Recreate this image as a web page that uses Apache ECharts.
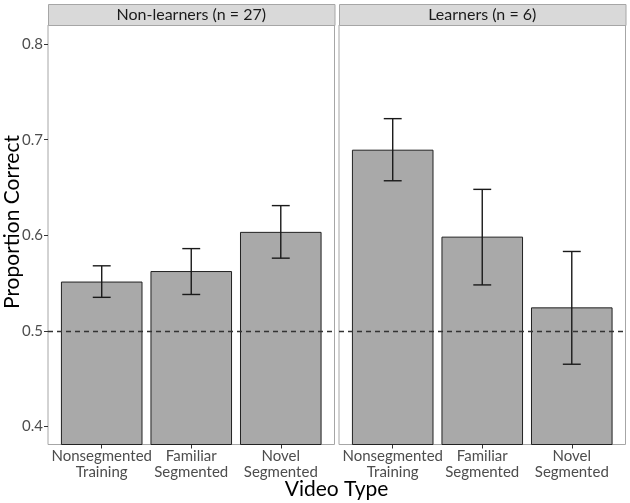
<!DOCTYPE html>
<html>
<head>
<meta charset="utf-8">
<script src="https://cdn.jsdelivr.net/npm/echarts@6/dist/echarts.min.js"></script>
<style>
  html, body { margin: 0; padding: 0; background: #fff; }
  #chart { width: 630px; height: 503px; }
</style>
</head>
<body>
<div id="chart"></div>
<script>
// video types (x categories), same in both panels
var categories = ['Nonsegmented\nTraining', 'Familiar\nSegmented', 'Novel\nSegmented'];
var panelTitles = ['Non-learners (n = 27)', 'Learners (n = 6)'];

// mean proportion correct and error bar ends
var nonLearnerMean = [0.551, 0.562, 0.603];
var nonLearnerLow  = [0.535, 0.538, 0.576];
var nonLearnerHigh = [0.568, 0.586, 0.631];

var learnerMean = [0.689, 0.598, 0.524];
var learnerLow  = [0.657, 0.548, 0.465];
var learnerHigh = [0.722, 0.648, 0.583];

var yTicks = [0.4, 0.5, 0.6, 0.7, 0.8];
var chanceLevel = 0.5;

var yMin = 0.381, yMax = 0.82;
var font = 'Lato';

function rows(mean, low, high) {
  return mean.map(function (m, i) { return [i + 1, m, low[i], high[i]]; });
}

function renderBar(params, api) {
  var x = api.value(0);
  var p0 = api.coord([x - 0.45, api.value(1)]);
  var p1 = api.coord([x + 0.45, yMin]);
  return {
    type: 'rect',
    shape: { x: p0[0], y: p0[1], width: p1[0] - p0[0], height: p1[1] - p0[1] },
    style: { fill: '#a9a9a9', stroke: '#222', lineWidth: 1 }
  };
}

function renderErr(params, api) {
  var x = api.value(0);
  var lo = api.coord([x, api.value(2)]);
  var hi = api.coord([x, api.value(3)]);
  var half = api.size([0.1, 0])[0];
  var st = { stroke: '#1a1a1a', lineWidth: 1.4 };
  return {
    type: 'group',
    children: [
      { type: 'line', shape: { x1: lo[0], y1: lo[1], x2: hi[0], y2: hi[1] }, style: st },
      { type: 'line', shape: { x1: lo[0] - half, y1: lo[1], x2: lo[0] + half, y2: lo[1] }, style: st },
      { type: 'line', shape: { x1: hi[0] - half, y1: hi[1], x2: hi[0] + half, y2: hi[1] }, style: st }
    ]
  };
}

var panels = [
  rows(nonLearnerMean, nonLearnerLow, nonLearnerHigh),
  rows(learnerMean, learnerLow, learnerHigh)
];
var panelLefts = [48, 339];
var panelW = 286.5, panelTop = 25, panelH = 419.5;

var grids = [], xAxes = [], yAxes = [], series = [], graphics = [];
panels.forEach(function (data, k) {
  grids.push({
    left: panelLefts[k], top: panelTop, width: panelW, height: panelH,
    show: true, borderColor: '#a6a6a6', borderWidth: 1, backgroundColor: '#fff'
  });
  xAxes.push({
    type: 'value', gridIndex: k, min: 0.4, max: 3.6,
    splitLine: { show: false }, axisLine: { show: false },
    axisTick: { show: true, length: 4, customValues: [1, 2, 3], lineStyle: { color: '#333' } },
    axisLabel: {
      customValues: [1, 2, 3], color: '#4d4d4d', fontFamily: font, fontSize: 15,
      lineHeight: 16, margin: 4,
      formatter: function (v) { return categories[Math.round(v) - 1]; }
    }
  });
  yAxes.push({
    type: 'value', gridIndex: k, min: yMin, max: yMax,
    splitLine: { show: false }, axisLine: { show: false },
    axisTick: { show: k === 0, length: 4, customValues: yTicks, lineStyle: { color: '#333' } },
    axisLabel: {
      show: k === 0, customValues: yTicks, color: '#4d4d4d', fontFamily: font, fontSize: 15, margin: 5,
      formatter: function (v) { return v.toFixed(1); }
    }
  });
  series.push({
    type: 'custom', xAxisIndex: k, yAxisIndex: k, data: data,
    renderItem: renderBar, silent: true,
    markLine: {
      silent: true, symbol: 'none', label: { show: false },
      lineStyle: { color: '#333', type: [5, 4], width: 1.3 },
      data: [{ yAxis: chanceLevel }]
    }
  });
  series.push({
    type: 'custom', xAxisIndex: k, yAxisIndex: k, data: data,
    renderItem: renderErr, silent: true, z: 5
  });
  graphics.push({
    type: 'rect', left: panelLefts[k], top: 4,
    shape: { width: panelW, height: 21 },
    style: { fill: '#d9d9d9', stroke: '#a6a6a6', lineWidth: 1 }
  });
  graphics.push({
    type: 'text', x: panelLefts[k] + panelW / 2, y: 14.5,
    style: {
      text: panelTitles[k], fill: '#1a1a1a', font: '16px ' + font,
      textAlign: 'center', textVerticalAlign: 'middle'
    }
  });
});

graphics.push({
  type: 'text', x: 336.5, y: 489, style: {
    text: 'Video Type', fill: '#000', font: '21px ' + font,
    textAlign: 'center', textVerticalAlign: 'middle'
  }
});
graphics.push({
  type: 'text', x: 12, y: 222, rotation: Math.PI / 2, style: {
    text: 'Proportion Correct', fill: '#000', font: '21px ' + font,
    textAlign: 'center', textVerticalAlign: 'middle'
  }
});

var chart = echarts.init(document.getElementById('chart'), null, { renderer: 'canvas' });
chart.setOption({
  animation: false,
  backgroundColor: '#fff',
  grid: grids,
  xAxis: xAxes,
  yAxis: yAxes,
  series: series,
  graphic: graphics
});
</script>
</body>
</html>
